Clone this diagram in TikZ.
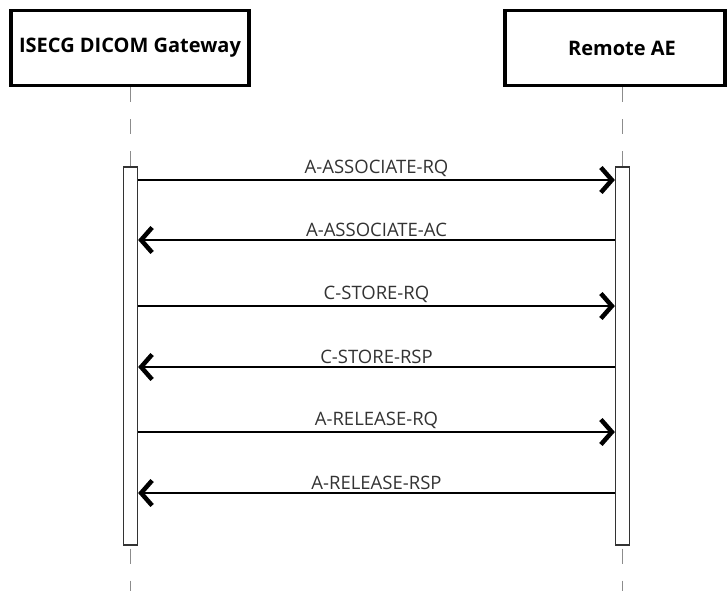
\documentclass[tikz,border=0pt]{standalone}
\usepackage{fontspec}
\setmainfont{Open Sans}
\usetikzlibrary{arrows.meta}

\begin{document}
\begin{tikzpicture}[x=1pt,y=-1pt,
  actor/.style={draw, line width=3.4pt, minimum height=75pt, inner sep=0pt, font=\bfseries\fontsize{20}{22}\selectfont},
  actbar/.style={draw=black!80, line width=1.2pt, fill=white, minimum width=14pt, minimum height=378pt, inner sep=0pt},
  life/.style={draw=black!45, line width=1.6pt, dash pattern=on 15pt off 17pt},
  msg/.style={line width=2.8pt, -{Straight Barb[length=11pt,width=25pt,line width=4.5pt]}},
  msglbl/.style={above=1pt, inner sep=1pt, text=black!80, font=\fontsize{18.5}{20}\selectfont}]
\useasboundingbox (0,0) rectangle (727,591);
\node[actor, minimum width=238pt] (gw) at (130,48) {ISECG DICOM Gateway};
\node[actor, minimum width=220pt] (ae) at (615,48) {\hspace*{14pt}Remote AE};
\node[actbar] (gwbar) at (130.5,356) {};
\node[actbar] (aebar) at (622.5,356) {};
\coordinate (gwend) at (130.5,591);
\coordinate (aeend) at (622.5,591);
% lifelines
\draw[life] (gwbar.north) ++(0,-79) -- (gwbar.north);
\draw[life] (aebar.north) ++(0,-79) -- (aebar.north);
\draw[life, dash phase=29pt] (gwbar.south) -- (gwend);
\draw[life, dash phase=29pt] (aebar.south) -- (aeend);
% messages
\foreach \y/\from/\to/\txt in {180/gwbar.east/aebar.west/A-ASSOCIATE-RQ,
  240/aebar.west/gwbar.east/A-ASSOCIATE-AC,
  306/gwbar.east/aebar.west/C-STORE-RQ,
  367/aebar.west/gwbar.east/C-STORE-RSP,
  432/gwbar.east/aebar.west/A-RELEASE-RQ,
  493/aebar.west/gwbar.east/A-RELEASE-RSP}
  \draw[msg] (\from |- 0,\y) -- node[msglbl] {\txt} (\to |- 0,\y);
\end{tikzpicture}
\end{document}
